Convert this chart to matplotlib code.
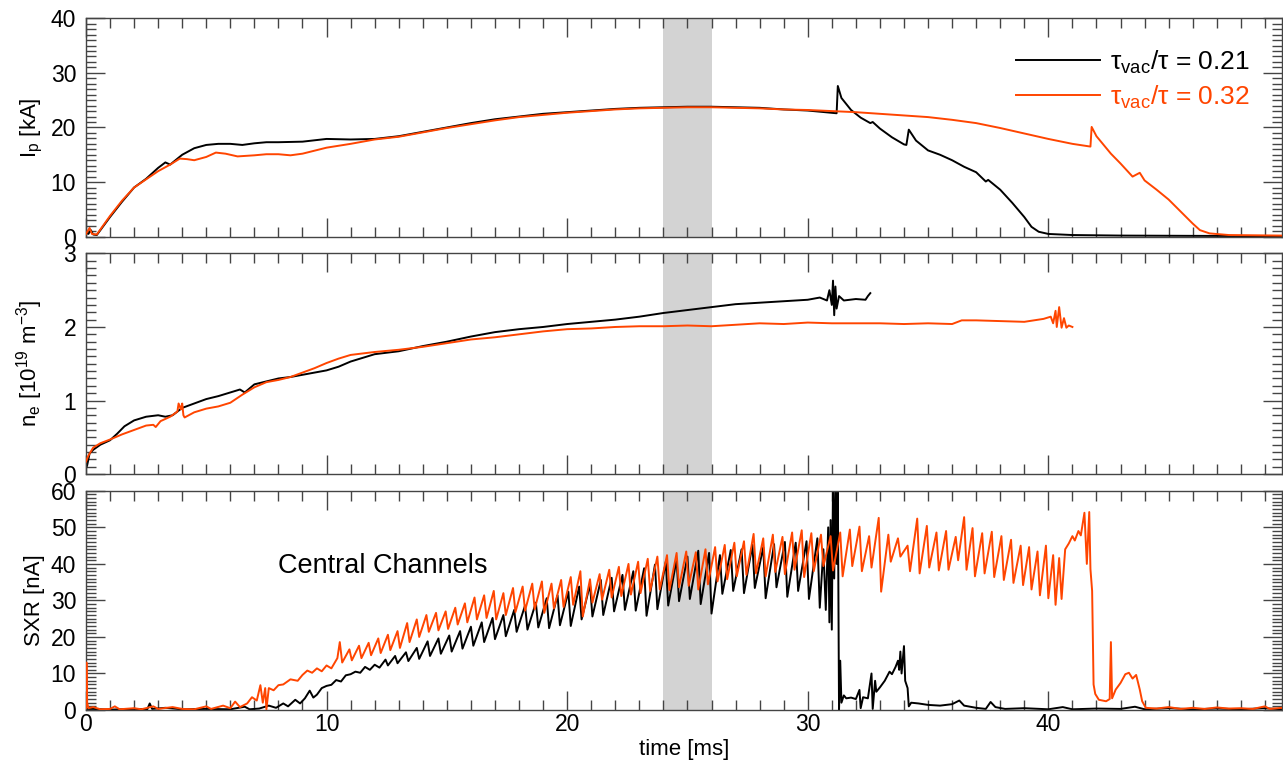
import matplotlib
matplotlib.use("Agg")
import matplotlib.pyplot as plt
from matplotlib.ticker import MultipleLocator
import numpy as np

plt.rcParams['font.family'] = ['Liberation Sans', 'DejaVu Sans']
plt.rcParams['mathtext.default'] = 'regular'

BLACK = 'black'
ORANGE = '#ff4500'

# plasma current [kA]
ip_t_a = [0, 0.1, 0.2, 0.3, 0.45, 1.0, 1.5, 2.0, 2.5, 3.0, 3.3, 3.5, 4.0, 4.5, 5.0, 5.5, 6.0, 6.5, 7.0, 7.5,
          8.0, 9.0, 10.0, 11.0, 12.0, 13.0, 14.0, 15.0, 16.0, 17.0, 18.0, 19.0, 20.0, 21.0, 22.0, 23.0,
          24.0, 25.0, 26.0, 27.0, 28.0, 29.0, 30.0, 31.2, 31.25, 31.4, 31.8, 32.2, 32.6, 32.7, 33.0, 33.5,
          34.0, 34.1, 34.2, 34.5, 35.0, 35.5, 36.0, 36.5, 37.0, 37.4, 37.5, 38.0, 38.5, 39.0, 39.3, 39.6,
          40.0, 41.0, 43.0, 46.0, 49.7]
ip_a = [0.8, 0.5, 1.2, 0.4, 0.3, 3.6, 6.4, 9.0, 10.6, 12.6, 13.6, 13.2, 15.0, 16.2, 16.8, 17.0, 17.0, 16.8,
        17.1, 17.3, 17.3, 17.4, 17.9, 17.8, 17.9, 18.4, 19.2, 20.0, 20.8, 21.5, 22.0, 22.5, 22.8, 23.1,
        23.4, 23.6, 23.7, 23.8, 23.8, 23.7, 23.6, 23.3, 23.1, 22.6, 27.6, 25.4, 23.2, 21.8, 20.8, 21.0,
        19.8, 18.2, 16.9, 16.8, 19.6, 17.6, 15.8, 15.0, 14.0, 12.8, 11.8, 10.1, 10.4, 8.6, 6.2, 3.6, 1.8,
        0.9, 0.5, 0.3, 0.2, 0.15, 0.1]

ip_t_b = [0, 0.15, 0.25, 0.45, 1.0, 1.5, 2.0, 2.5, 3.0, 3.5, 3.9, 4.2, 4.5, 5.0, 5.4, 5.8, 6.3, 7.0, 7.5,
          8.0, 8.5, 9.0, 10.0, 11.0, 12.0, 13.0, 14.0, 15.0, 16.0, 17.0, 18.0, 19.0, 20.0, 21.0, 22.0,
          23.0, 24.0, 25.0, 26.0, 27.0, 28.0, 29.0, 30.0, 31.0, 32.0, 33.0, 34.0, 35.0, 36.0, 37.0, 38.0,
          39.0, 40.0, 41.0, 41.75, 41.8, 42.0, 42.6, 43.0, 43.5, 43.8, 44.0, 44.5, 45.0, 45.5, 46.0, 46.3,
          46.7, 47.5, 49.7]
ip_b = [0.5, 1.6, 0.5, 0.4, 3.8, 6.6, 9.0, 10.5, 12.0, 13.2, 14.3, 14.2, 14.0, 14.6, 15.4, 15.2, 14.7,
        14.9, 15.1, 15.1, 14.9, 15.2, 16.3, 17.0, 17.8, 18.3, 19.1, 19.9, 20.6, 21.3, 21.9, 22.3, 22.7,
        23.0, 23.3, 23.5, 23.6, 23.7, 23.7, 23.6, 23.5, 23.3, 23.2, 23.0, 22.8, 22.5, 22.2, 21.9, 21.4,
        20.8, 19.9, 18.9, 17.9, 17.0, 16.5, 20.1, 18.4, 15.2, 13.4, 11.0, 11.7, 10.3, 8.6, 6.8, 4.6, 2.4,
        1.2, 0.6, 0.3, 0.2]

# line-averaged density [1e19 m^-3]
ne_t_a = [0.0, 0.05, 0.15, 0.3, 0.6, 1.0, 1.3, 1.6, 2.0, 2.5, 3.0, 3.3, 3.6, 4.0, 4.5, 5.0, 5.5, 6.0, 6.4,
          6.6, 7.0, 7.5, 8.0, 8.5, 9.0, 9.5, 10.0, 10.5, 11.0, 11.5, 12.0, 13.0, 14.0, 15.0, 16.0, 17.0,
          18.0, 19.0, 20.0, 21.0, 22.0, 23.0, 24.0, 25.0, 26.0, 27.0, 28.0, 29.0, 30.0, 30.5, 30.8, 30.9,
          31.0, 31.05, 31.1, 31.15, 31.2, 31.3, 31.5, 32.0, 32.4, 32.5, 32.6]
ne_a = [0.08, 0.12, 0.28, 0.33, 0.40, 0.46, 0.55, 0.65, 0.73, 0.78, 0.80, 0.78, 0.80, 0.90, 0.96, 1.02,
        1.06, 1.11, 1.15, 1.11, 1.22, 1.26, 1.30, 1.32, 1.35, 1.38, 1.41, 1.46, 1.53, 1.58, 1.63, 1.67,
        1.74, 1.80, 1.87, 1.93, 1.97, 2.00, 2.04, 2.07, 2.10, 2.14, 2.19, 2.23, 2.27, 2.31, 2.33, 2.35,
        2.37, 2.40, 2.36, 2.50, 2.30, 2.63, 2.16, 2.55, 2.25, 2.42, 2.36, 2.38, 2.37, 2.42, 2.46]

ne_t_b = [0.0, 0.1, 0.3, 0.6, 1.0, 1.5, 2.0, 2.5, 2.8, 2.9, 3.1, 3.5, 3.8, 3.85, 3.95, 4.0, 4.05, 4.1, 4.5,
          5.0, 5.5, 6.0, 6.5, 7.0, 7.5, 8.0, 8.5, 9.0, 9.5, 10.0, 10.5, 11.0, 11.5, 12.0, 13.0, 14.0,
          15.0, 16.0, 17.0, 18.0, 19.0, 20.0, 21.0, 22.0, 23.0, 24.0, 25.0, 26.0, 27.0, 28.0, 29.0, 30.0,
          31.0, 32.0, 33.0, 34.0, 35.0, 36.0, 36.4, 37.0, 38.0, 39.0, 39.8, 40.1, 40.2, 40.3, 40.35,
          40.45, 40.55, 40.65, 40.75, 40.85, 41.0]
ne_b = [0.17, 0.25, 0.36, 0.42, 0.47, 0.54, 0.60, 0.66, 0.67, 0.64, 0.72, 0.78, 0.85, 0.96, 0.88, 0.96,
        0.80, 0.77, 0.84, 0.89, 0.92, 0.97, 1.08, 1.18, 1.25, 1.28, 1.32, 1.38, 1.44, 1.51, 1.57, 1.62,
        1.64, 1.66, 1.69, 1.73, 1.78, 1.83, 1.86, 1.90, 1.94, 1.97, 1.98, 2.00, 2.01, 2.01, 2.02, 2.01,
        2.03, 2.05, 2.04, 2.06, 2.05, 2.05, 2.05, 2.04, 2.05, 2.04, 2.09, 2.09, 2.08, 2.07, 2.11, 2.14,
        2.05, 2.22, 2.00, 2.27, 1.99, 2.12, 1.99, 2.02, 2.00]

# soft x-ray, central channels [nA]
sxr_t_a = [0.0, 0.3, 1.0, 2.0, 2.55, 2.65, 2.75, 3.3, 4.0, 5.0, 6.0, 6.6, 6.8, 7.2, 7.6, 7.9, 8.2, 8.4,
           8.7, 8.9, 9.1, 9.3, 9.45, 9.6, 9.8, 10.0, 10.2, 10.4, 10.6, 10.8, 11.0, 11.2, 11.4, 11.6, 11.8,
           12.0, 12.2, 12.45, 12.55, 12.85, 12.95, 13.3, 13.4, 13.75, 13.85, 14.2, 14.3, 14.65, 14.75,
           15.1, 15.2, 15.55, 15.65, 16.0, 16.1, 16.45, 16.55, 16.9, 17.0, 17.35, 17.45, 17.8, 17.9,
           18.25, 18.35, 18.7, 18.8, 19.15, 19.25, 19.6, 19.7, 20.05, 20.15, 20.5, 20.6, 20.95, 21.05,
           21.4, 21.5, 21.85, 21.95, 22.3, 22.4, 22.75, 22.85, 23.2, 23.3, 23.65, 23.75, 24.1, 24.2,
           24.55, 24.65, 25.0, 25.1, 25.45, 25.55, 25.9, 26.0, 26.35, 26.45, 26.8, 26.9, 27.25, 27.35,
           27.7, 27.8, 28.15, 28.25, 28.6, 28.7, 29.05, 29.15, 29.5, 29.6, 29.95, 30.05, 30.4, 30.5,
           30.65, 30.75, 30.85, 30.9, 30.95, 31.0, 31.05, 31.1, 31.15, 31.2, 31.25, 31.3, 31.35, 31.4,
           31.5, 31.6, 31.8, 32.0, 32.15, 32.2, 32.3, 32.5, 32.65, 32.7, 32.8, 32.85, 33.0, 33.2, 33.4,
           33.5, 33.65, 33.75, 33.8, 33.85, 33.9, 34.0, 34.05, 34.15, 34.2, 34.3, 34.6, 35.0, 35.5, 36.0,
           36.3, 36.5, 37.0, 37.4, 37.6, 37.8, 38.2, 39.0, 40.0, 40.6, 41.0, 42.0, 43.0, 43.6, 44.0,
           45.0, 46.0, 47.0, 48.0, 49.0, 49.7]
sxr_a = [0.3, 0.3, 0.1, 0.3, 0.2, 1.8, 0.3, 0.6, 0.2, 0.3, 0.2, 0.9, 0.2, 0.4, 1.2, 0.6, 1.8, 1.0, 2.8,
         1.8, 3.2, 5.3, 3.4, 4.2, 6.0, 6.6, 6.9, 8.2, 7.8, 9.5, 9.8, 10.5, 10.2, 11.8, 11.0, 12.4, 11.6,
         13.8, 12.2, 14.8, 12.8, 15.8, 13.4, 17.0, 14.0, 18.8, 14.8, 19.6, 15.4, 20.4, 16.0, 21.6, 16.8,
         22.8, 17.6, 24.0, 18.6, 25.2, 19.4, 26.0, 20.2, 27.4, 21.4, 28.6, 22.0, 29.4, 22.6, 30.6, 22.4,
         31.4, 23.2, 32.4, 23.0, 33.8, 24.8, 34.4, 25.6, 35.6, 26.0, 36.2, 27.0, 37.0, 27.4, 38.0, 27.2,
         38.8, 25.8, 39.8, 27.6, 40.6, 28.6, 41.2, 29.8, 42.0, 30.4, 43.6, 29.0, 43.0, 26.4, 42.4, 31.8,
         43.8, 32.6, 44.0, 32.0, 45.2, 33.4, 44.6, 30.6, 45.4, 33.6, 46.0, 31.0, 45.8, 32.6, 46.2, 30.4,
         47.0, 28.0, 44.0, 27.4, 50.0, 24.0, 52.0, 22.0, 62.0, 36.0, 63.0, 40.0, 62.0, 0.0, 13.5, 2.0,
         4.0, 3.2, 3.4, 3.0, 5.5, 0.5, 3.5, 3.2, 10.0, 0.3, 8.0, 5.0, 6.2, 8.0, 10.5, 9.8, 11.8, 13.5,
         11.0, 16.0, 10.0, 17.5, 8.0, 6.0, 1.0, 2.0, 1.8, 1.4, 1.2, 1.6, 2.6, 1.2, 0.6, 0.3, 2.2, 0.8,
         0.3, 0.5, 0.2, 0.8, 0.2, 0.4, 0.3, 0.9, 0.2, 0.5, 0.2, 0.4, 0.2, 0.5, 0.2]

sxr_t_b = [0.0, 0.02, 0.05, 0.1, 0.3, 0.6, 1.0, 1.2, 1.4, 2.0, 2.3, 2.8, 3.0, 3.6, 4.0, 4.5, 5.0, 5.2, 5.7,
           6.0, 6.2, 6.4, 6.7, 6.9, 7.1, 7.25, 7.35, 7.45, 7.5, 7.6, 7.8, 8.0, 8.2, 8.5, 8.8, 9.0, 9.2,
           9.4, 9.6, 9.8, 10.0, 10.2, 10.45, 10.55, 10.65, 10.95, 11.05, 11.35, 11.45, 11.75, 11.85,
           12.15, 12.25, 12.55, 12.65, 12.95, 13.05, 13.35, 13.45, 13.75, 13.85, 14.15, 14.25, 14.55,
           14.65, 14.95, 15.05, 15.35, 15.45, 15.75, 15.85, 16.15, 16.25, 16.55, 16.65, 16.95, 17.05,
           17.35, 17.45, 17.75, 17.85, 18.15, 18.25, 18.55, 18.65, 18.95, 19.05, 19.35, 19.45, 19.75,
           19.85, 20.15, 20.25, 20.55, 20.65, 20.95, 21.05, 21.35, 21.45, 21.75, 21.85, 22.15, 22.25,
           22.55, 22.65, 22.95, 23.05, 23.35, 23.45, 23.75, 23.85, 24.15, 24.25, 24.55, 24.65, 24.95,
           25.05, 25.35, 25.45, 25.75, 25.85, 26.15, 26.25, 26.55, 26.65, 26.95, 27.05, 27.35, 27.45,
           27.75, 27.85, 28.15, 28.25, 28.55, 28.65, 28.95, 29.05, 29.35, 29.45, 29.75, 29.85, 30.15,
           30.25, 30.55, 30.65, 30.95, 31.05, 31.35, 31.45, 31.75, 31.85, 32.15, 32.25, 32.55, 32.65,
           32.95, 33.05, 33.35, 33.45, 33.75, 33.85, 34.15, 34.25, 34.55, 34.65, 34.95, 35.05, 35.35,
           35.45, 35.75, 35.85, 36.15, 36.25, 36.5, 36.6, 36.85, 36.95, 37.25, 37.35, 37.65, 37.75,
           38.05, 38.15, 38.45, 38.55, 38.85, 38.95, 39.2, 39.3, 39.55, 39.65, 39.9, 40.0, 40.2, 40.3,
           40.45, 40.55, 40.7, 40.85, 41.0, 41.1, 41.25, 41.35, 41.5, 41.6, 41.7, 41.75, 41.82, 41.88,
           41.95, 42.1, 42.4, 42.55, 42.6, 42.65, 42.8, 43.0, 43.2, 43.35, 43.5, 43.65, 43.8, 43.9,
           44.05, 44.5, 45.0, 45.5, 46.0, 46.5, 47.0, 47.5, 48.0, 48.5, 49.0, 49.2, 49.7]
sxr_b = [0.5, 13.0, 2.0, 0.5, 0.8, 0.2, 0.3, 1.0, 0.2, 0.5, 0.2, 1.0, 0.3, 0.8, 0.3, 0.2, 1.0, 0.3, 1.2,
         0.5, 2.3, 0.8, 1.8, 3.5, 2.6, 6.8, 2.0, 6.0, 0.2, 6.0, 5.4, 6.8, 7.0, 8.4, 8.0, 9.6, 10.8, 10.2,
         11.4, 10.6, 12.2, 11.4, 14.2, 18.6, 13.0, 16.6, 13.6, 17.6, 14.2, 18.4, 15.0, 19.6, 15.6, 20.6,
         16.4, 21.6, 17.0, 23.8, 18.6, 24.8, 20.0, 26.0, 21.4, 26.6, 21.8, 27.0, 22.2, 28.0, 23.4, 29.2,
         24.0, 30.8, 24.8, 31.4, 25.2, 32.6, 24.8, 32.0, 26.0, 33.4, 26.8, 33.8, 27.2, 34.6, 27.6, 35.2,
         26.6, 34.6, 27.8, 35.6, 28.2, 36.4, 28.8, 38.0, 25.6, 35.8, 29.4, 37.2, 30.2, 38.4, 30.8, 39.2,
         31.2, 40.0, 31.6, 40.6, 32.0, 41.4, 32.6, 42.0, 33.0, 42.4, 32.8, 43.0, 33.6, 43.4, 34.0, 43.2,
         33.0, 44.0, 34.4, 44.6, 35.2, 45.2, 35.8, 45.8, 36.6, 46.2, 37.0, 48.2, 37.4, 47.0, 36.6, 48.0,
         37.8, 47.4, 37.2, 48.6, 38.4, 49.2, 36.4, 48.4, 38.0, 48.0, 39.4, 47.6, 38.2, 48.6, 36.6, 49.4,
         39.4, 50.2, 38.0, 47.6, 39.0, 52.6, 32.4, 48.0, 40.6, 47.0, 42.0, 45.0, 38.0, 52.4, 37.4, 50.4,
         39.0, 48.6, 38.2, 49.0, 38.4, 47.4, 41.0, 52.8, 38.4, 49.8, 36.6, 48.4, 37.4, 48.8, 36.4, 47.6,
         35.6, 46.6, 34.8, 45.0, 34.2, 44.6, 33.0, 43.4, 31.4, 45.0, 30.6, 42.4, 28.8, 41.6, 30.4, 44.0,
         45.6, 47.6, 46.4, 49.0, 47.8, 54.0, 40.0, 54.2, 38.6, 32.6, 7.0, 4.4, 2.8, 2.4, 3.0, 18.6, 3.2,
         5.6, 7.4, 9.8, 10.2, 8.6, 9.6, 5.6, 2.4, 0.6, 0.4, 0.8, 0.3, 0.6, 0.3, 0.7, 0.4, 0.5, 0.3, 1.0,
         0.3, 0.6]

band = (24.0, 26.0)
labels = [r'$\tau_{vac}$/$\tau$ = 0.21', r'$\tau_{vac}$/$\tau$ = 0.32']

fig = plt.figure(figsize=(12.83, 7.61), dpi=100)
left, width = 0.067, 0.932
ax1 = fig.add_axes([left, 0.689, width, 0.287])
ax2 = fig.add_axes([left, 0.377, width, 0.290])
ax3 = fig.add_axes([left, 0.067, width, 0.288])

panels = [
    (ax1, ip_t_a, ip_a, ip_t_b, ip_b, 40, 10, 1, r'I$_p$ [kA]'),
    (ax2, ne_t_a, ne_a, ne_t_b, ne_b, 3, 1, 0.1, r'n$_e$ [10$^{19}$ m$^{-3}$]'),
    (ax3, sxr_t_a, sxr_a, sxr_t_b, sxr_b, 60, 10, 1, 'SXR [nA]'),
]

for ax, ta, ya, tb, yb, ymax, major, minor, ylab in panels:
    ax.axvspan(*band, color='#d3d3d3', lw=0, zorder=0)
    ax.plot(ta, ya, color=BLACK, lw=1.4, zorder=2)
    ax.plot(tb, yb, color=ORANGE, lw=1.4, zorder=3)
    ax.set_xlim(0, 49.7)
    ax.set_ylim(0, ymax)
    ax.xaxis.set_major_locator(MultipleLocator(10))
    ax.xaxis.set_minor_locator(MultipleLocator(1))
    ax.yaxis.set_major_locator(MultipleLocator(major))
    ax.yaxis.set_minor_locator(MultipleLocator(minor))
    ax.tick_params(which='both', direction='in', top=True, right=True,
                   color='#444444', width=1.0, labelsize=16.5)
    ax.tick_params(which='major', length=14)
    ax.tick_params(which='minor', length=7)
    ax.tick_params(axis='y', pad=7)
    ax.tick_params(axis='x', pad=2)
    for sp in ax.spines.values():
        sp.set_color('#444444')
        sp.set_linewidth(1.0)
    ax.set_ylabel(ylab, fontsize=16)
    ax.yaxis.set_label_coords(-0.034, 0.5)
    if ax is not ax3:
        ax.tick_params(labelbottom=False)

ax1.legend(ax1.lines[:2], labels, loc='upper right', frameon=False,
           fontsize=19, handlelength=3.2, handletextpad=0.35, labelspacing=0.3,
           borderaxespad=0, labelcolor=[BLACK, ORANGE], bbox_to_anchor=(0.982, 0.91))

ax3.text(8.0, 39.4, 'Central Channels', fontsize=19.5, ha='left', va='center')
ax3.set_xlabel('time [ms]', fontsize=16, labelpad=2)

fig.savefig('out.png', dpi=100)
